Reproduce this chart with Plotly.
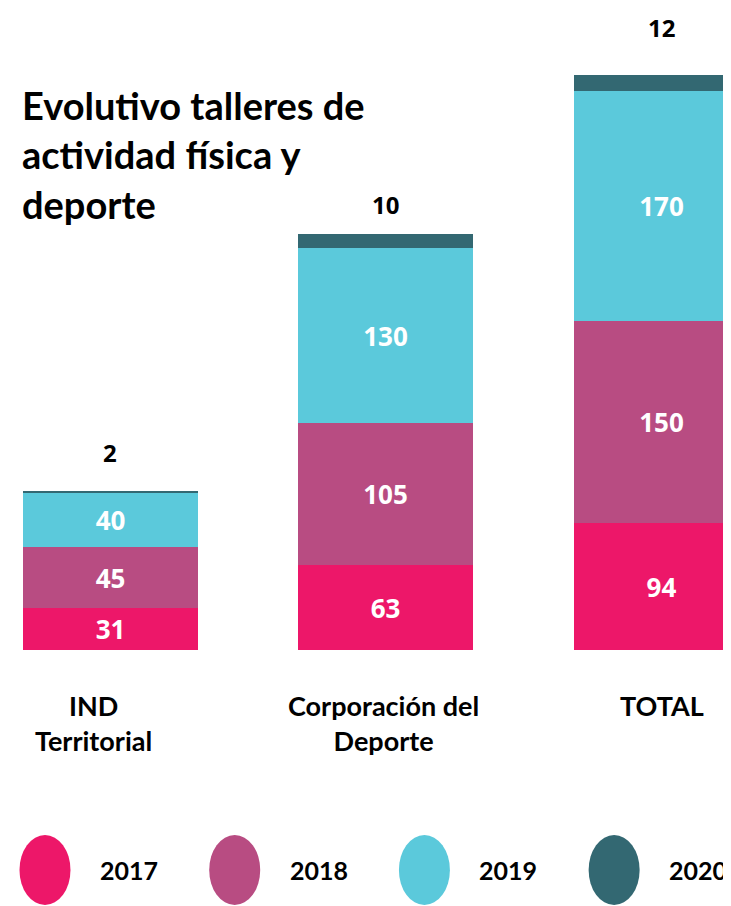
import plotly.graph_objects as go

categories = ["IND Territorial", "Corporación del Deporte", "TOTAL"]
category_labels = ["IND<br>Territorial", "Corporación del<br>Deporte", "TOTAL"]
years = ["2017", "2018", "2019", "2020"]
v2017 = [31, 63, 94]
v2018 = [45, 105, 150]
v2019 = [40, 130, 170]
v2020 = [2, 10, 12]
colors = ["#ED1769", "#B84C82", "#5BC9DB", "#336872"]
title_text = "Evolutivo talleres de<br>actividad física y<br>deporte"

series = [v2017, v2018, v2019, v2020]
xi = list(range(len(categories)))

W, H = 723, 898
fig = go.Figure()
for k, (yr, vals, col) in enumerate(zip(years, series, colors)):
    show_text = k < 3
    fig.add_trace(go.Bar(
        x=xi, y=vals, name=yr, marker=dict(color=col, line=dict(width=0)),
        width=0.6346,
        text=[str(v) for v in vals] if show_text else None,
        textposition="inside" if show_text else "none",
        insidetextanchor="middle",
        textfont=dict(color="white", size=26, family="Open Sans", weight="bold"),
        showlegend=False, hoverinfo="skip",
        xaxis="x", yaxis="y",
    ))

totals = [sum(s[i] for s in series) for i in xi]
top_shift = [36, 27, 45]
for i in xi:
    fig.add_annotation(x=i, y=totals[i], xref="x", yref="y", text=str(v2020[i]),
                       showarrow=False, yanchor="bottom", yshift=top_shift[i] - 15,
                       borderpad=0,
                       font=dict(size=24, color="black", family="Open Sans", weight="bold"))

lab_shift = [-17, -2, 0]
for i in xi:
    fig.add_annotation(x=i, y=0, xref="x", yref="y", text=category_labels[i],
                       showarrow=False, yanchor="top", yshift=-37, xshift=lab_shift[i],
                       align="center",
                       font=dict(size=27, color="black", family="Lato", weight="bold"))

# legend: ellipses + labels in a separate axis
lx = list(range(len(years)))
ew, eh = 0.1344, 35
for i, col in enumerate(colors):
    fig.add_shape(type="circle", xref="x2", yref="y2",
                  x0=lx[i] - ew, x1=lx[i] + ew, y0=-eh, y1=eh,
                  fillcolor=col, line=dict(width=0))
fig.add_trace(go.Scatter(
    x=lx, y=[0] * len(years), mode="markers",
    marker=dict(color="rgba(0,0,0,0)", size=1),
    xaxis="x2", yaxis="y2", showlegend=False, hoverinfo="skip",
))
for i, yr in enumerate(years):
    fig.add_annotation(x=lx[i], y=0, xref="x2", yref="y2", text=yr, showarrow=False,
                       xanchor="left", xshift=53,
                       font=dict(size=25, color="black", family="Lato", weight="bold"))

fig.add_annotation(x=0, y=1, xref="paper", yref="paper", xanchor="left", yanchor="top",
                   xshift=12, yshift=-72, text=title_text, showarrow=False, align="left",
                   font=dict(size=38, color="black", family="Lato", weight="bold"))

fig.update_layout(
    width=W, height=H,
    margin=dict(l=0, r=0, t=0, b=0),
    plot_bgcolor="white", paper_bgcolor="white",
    barmode="stack", bargap=0,
    xaxis=dict(domain=[0, 1], range=[-0.3699, 2.252], visible=False, fixedrange=True),
    yaxis=dict(domain=[256 / H, 1], range=[0, 475.6], visible=False, fixedrange=True),
    xaxis2=dict(domain=[0, 1], range=[-0.195, 3.616], anchor="y2", visible=False),
    yaxis2=dict(domain=[0, 72 / H], range=[-36, 36], anchor="x2", visible=False),
)

fig.write_html("out.html")
